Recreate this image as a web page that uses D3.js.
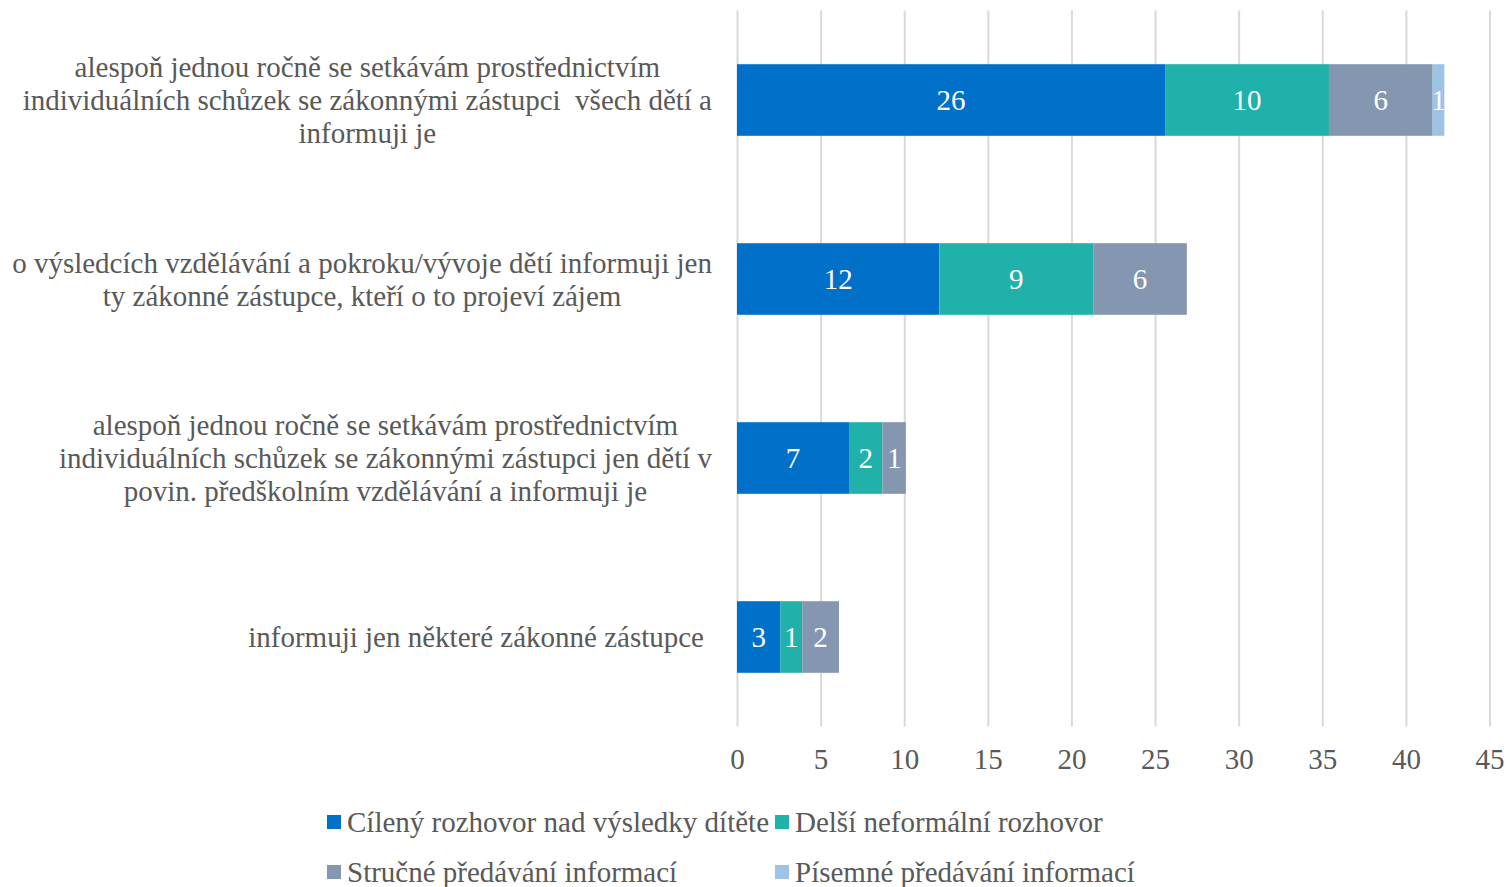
<!DOCTYPE html>
<html>
<head>
<meta charset="utf-8">
<script src="https://cdn.jsdelivr.net/npm/d3@7"></script>
<style>
html,body{margin:0;padding:0;background:#fff;}
svg{display:block;}
text{font-family:"Liberation Serif","Times New Roman",serif;white-space:pre;}
</style>
</head>
<body>
<svg id="chart" width="1509" height="887"></svg>
<script>
// ---- data ----
const categories = [
  "alespoň jednou ročně se setkávám prostřednictvím individuálních schůzek se zákonnými zástupci  všech dětí a informuji je",
  "o výsledcích vzdělávání a pokroku/vývoje dětí informuji jen ty zákonné zástupce, kteří o to projeví zájem",
  "alespoň jednou ročně se setkávám prostřednictvím individuálních schůzek se zákonnými zástupci jen dětí v povin. předškolním vzdělávání a informuji je",
  "informuji jen některé zákonné zástupce"
];
const categoryLines = [
  ["alespoň jednou ročně se setkávám prostřednictvím", "individuálních schůzek se zákonnými zástupci  všech dětí a", "informuji je"],
  ["o výsledcích vzdělávání a pokroku/vývoje dětí informuji jen", "ty zákonné zástupce, kteří o to projeví zájem"],
  ["alespoň jednou ročně se setkávám prostřednictvím", "individuálních schůzek se zákonnými zástupci jen dětí v", "povin. předškolním vzdělávání a informuji je"],
  ["informuji jen některé zákonné zástupce"]
];
const seriesNames = ["Cílený rozhovor nad výsledky dítěte", "Delší neformální rozhovor", "Stručné předávání informací", "Písemné předávání informací"];
const cileny   = [25.6, 12.1, 6.7, 2.6];
const delsi    = [9.8, 9.2, 2.0, 1.3];
const strucne  = [6.2, 5.6, 1.4, 2.2];
const pisemne  = [0.7, 0, 0, 0];
const tickValues = [0, 5, 10, 15, 20, 25, 30, 35, 40, 45];
const colors = ["#0070C8", "#20B2AA", "#8496B0", "#9DC3E6"];

// ---- build ----
const seriesValues = [cileny, delsi, strucne, pisemne];
const rows = categories.map((c, i) => {
  const o = {cat: c};
  seriesNames.forEach((s, j) => o[s] = seriesValues[j][i]);
  return o;
});
const stacked = d3.stack().keys(seriesNames)(rows);

const svg = d3.select("#chart");
const textColor = "#595959";
const fs = "29px";

const x = d3.scaleLinear().domain([0, 45]).range([737, 1489.5]);
const y = d3.scaleBand().domain(categories).range([10.5, 726.5]).paddingInner(0.6).paddingOuter(0.3);

// gridlines + tick labels
const xAxis = d3.axisBottom(x).tickValues(tickValues).tickSize(-(726.5 - 10.5)).tickSizeOuter(0).tickPadding(22);
const gx = svg.append("g").attr("transform", "translate(0,726.5)").call(xAxis);
gx.select(".domain").remove();
gx.selectAll(".tick line").attr("stroke", "#d9d9d9").attr("stroke-width", 2);
gx.selectAll(".tick text")
  .attr("fill", textColor)
  .style("font-size", fs)
  .attr("font-family", "Liberation Serif, Times New Roman, serif");

// bars
const layers = svg.append("g").selectAll("g").data(stacked).join("g")
  .attr("fill", (d, i) => colors[i]);
layers.selectAll("rect").data(d => d.map(v => ({v, key: d.key}))).join("rect")
  .attr("x", d => x(d.v[0]))
  .attr("width", d => Math.max(0, x(d.v[1]) - x(d.v[0])))
  .attr("y", d => y(d.v.data.cat))
  .attr("height", y.bandwidth());

// value labels
layers.selectAll("text").data(d => d.map(v => ({v, key: d.key}))).join("text")
  .filter(d => Math.round(d.v[1] - d.v[0]) > 0)
  .attr("x", d => (x(d.v[0]) + x(d.v[1])) / 2)
  .attr("y", d => y(d.v.data.cat) + y.bandwidth() / 2)
  .attr("dy", "0.35em")
  .attr("text-anchor", "middle")
  .attr("fill", "#fff")
  .style("font-size", fs)
  .text(d => Math.round(d.v[1] - d.v[0]));

// category labels (right-aligned block, lines centered within block)
const lineH = 33;
const rightEdge = 712;
categories.forEach((c, i) => {
  const lines = categoryLines[i];
  const g = svg.append("g");
  const cy = y(c) + y.bandwidth() / 2;
  const texts = lines.map((l, k) => g.append("text")
    .attr("y", cy + (k - (lines.length - 1) / 2) * lineH)
    .attr("dy", "0.35em")
    .attr("text-anchor", "middle")
    .attr("fill", textColor)
    .style("font-size", fs)
    .text(l));
  const maxW = d3.max(texts, t => t.node().getComputedTextLength());
  const center = (lines.length === 1 ? rightEdge - 8 : rightEdge) - maxW / 2;
  texts.forEach(t => t.attr("x", center));
});

// legend
const legPos = [[327, 822], [775, 822], [327, 872], [775, 872]];
const leg = svg.append("g").selectAll("g").data(seriesNames).join("g")
  .attr("transform", (d, i) => `translate(${legPos[i][0]},${legPos[i][1]})`);
leg.append("rect").attr("x", 0).attr("y", -7).attr("width", 14).attr("height", 14)
  .attr("fill", (d, i) => colors[i]);
leg.append("text").attr("x", 20).attr("y", 0).attr("dy", "0.35em")
  .attr("fill", textColor).style("font-size", fs).text(d => d);
</script>
</body>
</html>
